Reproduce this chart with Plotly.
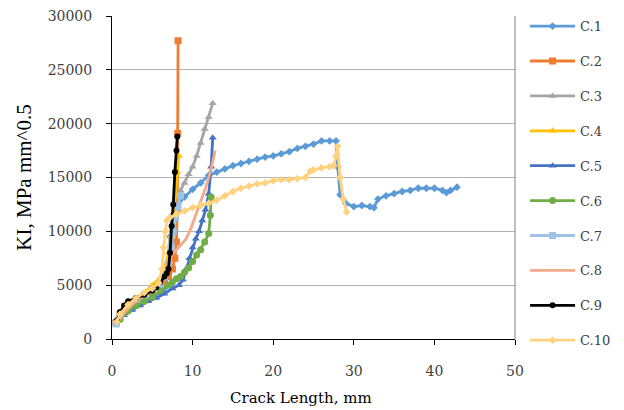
import plotly.graph_objects as go

names = ["C.1", "C.2", "C.3", "C.4", "C.5", "C.6", "C.7", "C.8", "C.9", "C.10"]

c1_x = [0.5, 1, 2, 3, 4, 5, 6, 6.5, 7, 7.2, 7.5, 8, 9, 10, 11, 12, 13, 14, 15, 16, 17, 18, 19, 20, 21, 22, 23, 24, 25,
        26, 27, 27.8, 28.0, 28.3, 29, 30, 31, 32, 32.5, 33, 34, 35, 36, 37, 38, 39, 40, 41, 41.5, 42, 42.8]
c1_y = [1700, 2300, 2900, 3300, 3600, 3900, 4300, 4700, 6000, 9500, 11500, 12300, 13200, 13900, 14500, 15200, 15500,
        15800, 16100, 16300, 16500, 16700, 16900, 17000, 17200, 17400, 17700, 17900, 18100, 18400, 18400, 18400,
        16000, 13400, 12600, 12300, 12400, 12300, 12200, 13000, 13300, 13500, 13700, 13800, 14000, 14000, 14000,
        13800, 13600, 13800, 14100]

c2_x = [0.5, 1, 2, 3, 4, 5, 6, 6.5, 7, 7.5, 7.8, 8.0, 8.1, 8.15, 8.2]
c2_y = [1500, 2300, 3000, 3500, 4000, 4400, 4900, 5300, 5800, 6500, 7500, 9000, 12000, 19100, 27700]

c3_x = [0.5, 1, 2, 3, 4, 5, 6, 6.5, 7, 7.5, 8, 8.5, 9, 9.5, 10, 10.5, 11, 11.5, 12, 12.5]
c3_y = [1600, 2400, 3100, 3600, 4000, 4500, 5000, 5600, 7000, 9000, 12000, 13800, 14500, 15300, 16000, 17000,
        18200, 19500, 20600, 21900]

c4_x = [0.5, 1, 2, 3, 4, 5, 6, 6.5, 7, 7.3, 7.6, 7.9, 8.1, 8.3]
c4_y = [1500, 2300, 3100, 3800, 4300, 5000, 5700, 6500, 8000, 9500, 11500, 13500, 15500, 17000]

c5_x = [0.8, 1.5, 2.5, 3.5, 4.5, 5.5, 6.5, 7.5, 8.3, 8.8, 9.2, 9.6, 10, 10.4, 10.8, 11.2, 11.6, 12, 12.3, 12.5]
c5_y = [1800, 2200, 2700, 3100, 3500, 3800, 4200, 4700, 5000, 5500, 6500, 7500, 8500, 9300, 10000, 11000,
        12000, 13500, 16000, 18700]

c6_x = [1, 2, 3, 4, 5, 6, 7, 7.5, 8, 8.5, 9, 9.5, 10, 10.5, 11, 11.5, 12, 12.2, 12.3]
c6_y = [1800, 2600, 3100, 3500, 3900, 4500, 5000, 5300, 5600, 5800, 6200, 6600, 7200, 7800, 8300, 9000, 9800,
        11500, 13200]

c7_x = [0.5, 1, 2, 3, 4, 5, 6, 6.5, 7, 7.3, 7.6, 7.9, 8.2, 8.5]
c7_y = [1400, 2200, 3200, 3700, 4100, 4600, 5100, 5800, 7000, 8500, 10000, 11300, 12300, 13300]

c8_x = [0.8, 1.5, 2.5, 3.5, 4.5, 5.5, 6.2, 6.8, 7.4, 8, 8.6, 9.2, 9.8, 10.4, 11, 11.6, 12.2, 12.8]
c8_y = [1700, 2400, 3200, 3800, 4400, 5000, 5800, 7000, 7800, 8300, 8800, 9300, 10300, 11500, 12800, 14000,
        15500, 17500]

c9_x = [0.6, 1, 1.5, 2, 3, 4, 5, 5.5, 6, 6.5, 6.8, 7, 7.2, 7.4, 7.6, 7.8, 8.0, 8.1]
c9_y = [1700, 2500, 3100, 3500, 3800, 4100, 4500, 4800, 5300, 5800, 6100, 6500, 8000, 10500, 12500, 15500,
        17500, 18800]

c10_x = [0.6, 1, 2, 3, 4, 5, 5.8, 6.2, 6.4, 6.6, 6.8, 7.2, 8, 9, 10, 11, 12, 13, 14, 15, 16, 17, 18, 19, 20, 21,
         22, 23, 24, 24.6, 25, 26, 27, 27.5, 27.8, 28.0, 28.3, 28.7, 29.1]
c10_y = [1600, 2300, 3200, 3800, 4300, 4700, 5200, 6500, 8500, 10000, 11000, 11300, 11600, 11900, 12200, 12400,
         12600, 12900, 13300, 13700, 14000, 14200, 14400, 14500, 14700, 14800, 14800, 14900, 15000, 15600, 15700,
         15900, 16000, 16100, 17000, 17900, 15000, 13000, 11800]

xs = [c1_x, c2_x, c3_x, c4_x, c5_x, c6_x, c7_x, c8_x, c9_x, c10_x]
ys = [c1_y, c2_y, c3_y, c4_y, c5_y, c6_y, c7_y, c8_y, c9_y, c10_y]

colors = ["#5B9BD5", "#ED7D31", "#A5A5A5", "#FFC000", "#4472C4", "#70AD47", "#9DC3E6", "#F4A98A", "#000000", "#FFD27F"]
symbols = ["diamond", "square", "triangle-up", "triangle-up", "triangle-up", "circle", "square", None, "circle", "diamond"]
msizes = [6, 7, 7, 7, 7, 7, 7, 0, 6, 6]

x_ticks = [0, 10, 20, 30, 40, 50]
y_ticks = [0, 5000, 10000, 15000, 20000, 25000, 30000]

fig = go.Figure()
for i, n in enumerate(names):
    if symbols[i] is None:
        mode = "lines"
        marker = dict()
    else:
        mode = "lines+markers"
        marker = dict(symbol=symbols[i], size=msizes[i], color=colors[i])
    fig.add_trace(go.Scatter(
        x=xs[i], y=ys[i], name=n, mode=mode, legendgroup=n,
        line=dict(color=colors[i], width=2.8), marker=marker,
    ))

tickfont = dict(family="DejaVu Serif", size=14, color="#404040")
fig.update_layout(
    width=624, height=410,
    margin=dict(l=104, r=117, t=8, b=79, autoexpand=False),
    paper_bgcolor="white", plot_bgcolor="white",
    showlegend=True,
    legend=dict(x=1.025, y=1.015, xanchor="left", yanchor="top",
                font=dict(family="DejaVu Serif", size=13, color="#404040"),
                tracegroupgap=15, itemwidth=45, bgcolor="rgba(0,0,0,0)", maxheight=400),
    xaxis=dict(range=[0, 50], tickvals=x_ticks, ticktext=[str(v) for v in x_ticks],
               showgrid=False, zeroline=False, automargin=False,
               showline=True, linecolor="#000000", linewidth=1,
               ticks="outside", ticklen=5, tickcolor="#000000", ticklabeloverflow="allow",
               tickfont=tickfont, ticklabelstandoff=14),
    yaxis=dict(range=[0, 30000], tickvals=y_ticks, ticktext=[str(v) for v in y_ticks],
               showgrid=True, gridcolor="#B3B3B3", gridwidth=1, automargin=False,
               zeroline=False, showline=True, linecolor="#000000", linewidth=1,
               ticks="outside", ticklen=5, tickcolor="#000000", ticklabeloverflow="allow",
               tickfont=tickfont, ticklabelstandoff=11,
               title=dict(text="KI, MPa mm^0.5", font=dict(family="Liberation Serif", size=21, color="#000000"),
                          standoff=10)),
    annotations=[dict(text="Crack Length, mm", x=0.469, y=-0.183, xref="paper", yref="paper",
                      xanchor="center", yanchor="middle", showarrow=False,
                      font=dict(family="DejaVu Serif", size=15, color="#000000"))],
    shapes=[dict(type="line", xref="paper", yref="paper", x0=1, x1=1, y0=0, y1=1,
                 line=dict(color="#7F7F7F", width=1))],
)

fig.write_html("out.html")
